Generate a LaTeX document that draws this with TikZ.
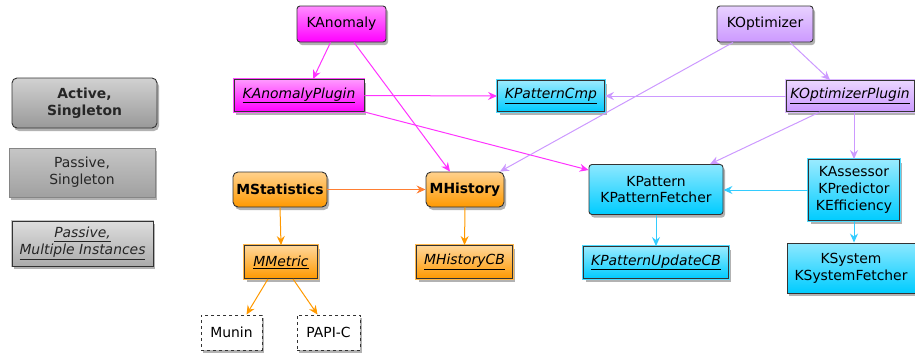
\documentclass[tikz,border=0pt]{standalone}
\usepackage{fontspec}
\setmainfont{DejaVu Sans}
\usetikzlibrary{arrows.meta,shadows}
\definecolor{cMag}{HTML}{FF00FF}
\definecolor{cCyan}{HTML}{00CCFF}
\definecolor{cPurp}{HTML}{CC99FF}
\definecolor{cOrng}{HTML}{FF9900}
\definecolor{eMag}{HTML}{FF33FF}
\definecolor{eCyan}{HTML}{33CCFF}
\definecolor{ePurp}{HTML}{CC99FF}
\definecolor{eOrng}{HTML}{FF9900}
\definecolor{eOrngB}{HTML}{FF7F33}
\definecolor{frame}{HTML}{333333}
\definecolor{legDark}{HTML}{999999}
\definecolor{legMid}{HTML}{A0A0A0}
\definecolor{legLight}{HTML}{ABABAB}
\tikzset{
  sz/.style 2 args={minimum width=#1pt, minimum height=#2pt},
  box/.style={inner sep=0pt, align=center, text=black,
    font=\fontsize{13.9pt}{16.7pt}\selectfont,
    drop shadow={shadow xshift=2pt, shadow yshift=-3pt, opacity=0.3, fill=black}},
  single/.style={box, draw=frame, line width=0.9pt,
    top color=#1!45!white, middle color=#1, bottom color=#1},
  activebox/.style={single=#1, rounded corners=3pt},
  multibox/.style={box, draw=frame, line width=0.9pt,
    preaction={draw=#1!70!white, line width=2.8pt},
    top color=#1!40!white, bottom color=#1},
  extbox/.style={box, draw=frame, dashed, line width=0.9pt, fill=white},
  link/.style={line width=1pt, -{Stealth[length=9pt, width=8pt, inset=3pt]}},
}
\newcommand{\ul}[1]{\underline{\textit{#1}}}
\begin{document}
\begin{tikzpicture}[x=1pt, y=-1pt]
\useasboundingbox (0,0) rectangle (915,356);
% legend
\node[single=legDark, rounded corners=5pt, sz={145}{50}, font=\fontsize{13.9pt}{16.7pt}\selectfont\bfseries, text=black!85] (legA) at (84.5,103) {Active,\\Singleton};
\node[box, draw=frame!60, line width=0.6pt, top color=legMid!60!white, middle color=legMid, bottom color=legMid, sz={146}{49}, text=black!85] (legP) at (82,172.5) {Passive,\\Singleton};
\node[multibox=legLight, sz={141}{45}, text=black!85] (legM) at (82.5,243.5) {\ul{Passive,}\\\ul{Multiple Instances}};
% magenta
\node[activebox=cMag, sz={89}{36}] (KAnomaly) at (341.5,24) {KAnomaly};
\node[multibox=cMag, sz={130}{32}] (KAnomalyPlugin) at (299,95.5) {\ul{KAnomalyPlugin}};
% purple
\node[activebox=cPurp, sz={96}{36}] (KOptimizer) at (765,24) {KOptimizer};
\node[multibox=cPurp, sz={128}{31}] (KOptimizerPlugin) at (850,96) {\ul{KOptimizerPlugin}};
% cyan
\node[multibox=cCyan, sz={107}{31}] (KPatternCmp) at (551,96) {\ul{KPatternCmp}};
\node[activebox=cCyan, sz={134}{50}] (KPattern) at (656,189.5) {KPattern\\KPatternFetcher};
\node[multibox=cCyan, sz={145}{32}] (KPatternUpdateCB) at (656,262.5) {\ul{KPatternUpdateCB}};
\node[multibox=cCyan, sz={91}{61}] (KAssess) at (854,190) {KAssessor\\KPredictor\\KEfficiency};
\node[single=cCyan, sz={128}{50}] (KSystem) at (851,268) {KSystem\\KSystemFetcher};
% orange
\node[activebox=cOrng, rounded corners=5pt, sz={94}{35}, font=\fontsize{13.9pt}{16.7pt}\selectfont\bfseries] (MStatistics) at (280,189.5) {MStatistics};
\node[activebox=cOrng, rounded corners=5pt, sz={78}{35}, font=\fontsize{13.9pt}{16.7pt}\selectfont\bfseries] (MHistory) at (465,189.5) {MHistory};
\node[multibox=cOrng, sz={73}{33}] (MMetric) at (281,262) {\ul{MMetric}};
\node[multibox=cOrng, sz={96}{33}] (MHistoryCB) at (464.5,262) {\ul{MHistoryCB}};
\node[extbox, sz={61}{35}] (Munin) at (231.5,332.5) {Munin};
\node[extbox, sz={63}{35}] (PAPI) at (328.5,332.5) {PAPI-C};
% edges magenta
\draw[link, eMag] ([xshift=-11pt]KAnomaly.south) -- ([xshift=14pt]KAnomalyPlugin.north);
\draw[link, eMag] ([xshift=12.5pt]KAnomaly.south) -- ([xshift=-15pt]MHistory.north);
\draw[link, eMag] (KAnomalyPlugin.east) -- (KPatternCmp.west);
\draw[link, eMag] (KAnomalyPlugin.south east) -- ([yshift=-6pt]KPattern.north west);
% edges purple
\draw[link, ePurp] ([xshift=25pt]KOptimizer.south) -- ([xshift=-20pt]KOptimizerPlugin.north);
\draw[link, ePurp] ([xshift=-32pt]KOptimizer.south) -- ([xshift=35pt]MHistory.north);
\draw[link, ePurp] (KOptimizerPlugin.west) -- (KPatternCmp.east);
\draw[link, ePurp] ([xshift=-30pt]KOptimizerPlugin.south) -- ([xshift=54pt]KPattern.north);
\draw[link, ePurp] (KAssess.north |- KOptimizerPlugin.south) -- (KAssess.north);
% edges cyan
\draw[link, eCyan] (KAssess.west) -- (KAssess.west -| KPattern.east);
\draw[link, eCyan] (KAssess.south) -- (KAssess.south |- KSystem.north);
\draw[link, eCyan] (KPattern.south) -- (KPatternUpdateCB.north);
% edges orange
\draw[link, eOrngB] (MStatistics.east) -- (MHistory.west);
\draw[link, eOrng] (MStatistics.south) -- (MMetric.north);
\draw[link, eOrng] (MHistory.south) -- (MHistoryCB.north);
\draw[link, eOrng] ([xshift=-13pt]MMetric.south) -- ([xshift=15pt]Munin.north);
\draw[link, eOrng] ([xshift=12pt]MMetric.south) -- ([xshift=-11pt]PAPI.north);
\end{tikzpicture}
\end{document}
